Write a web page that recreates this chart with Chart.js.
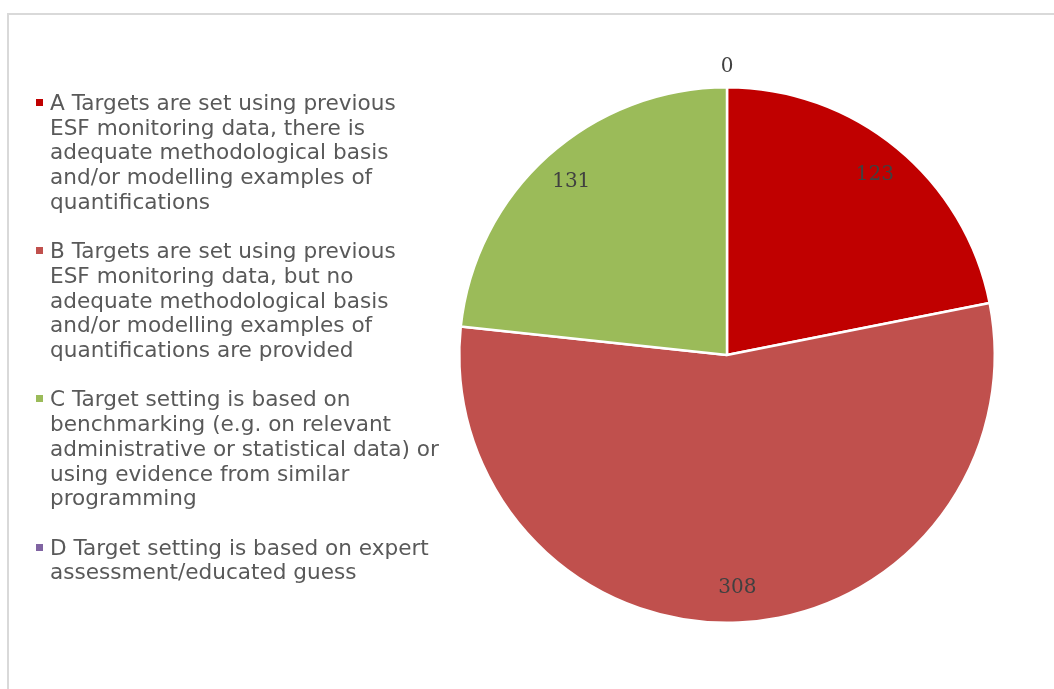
<!DOCTYPE html>
<html>
<head>
<meta charset="utf-8">
<script src="https://cdn.jsdelivr.net/npm/chart.js@4/dist/chart.umd.min.js"></script>
<style>
  html, body { margin: 0; padding: 0; background: #ffffff; overflow: hidden; }
  #wrap { position: relative; width: 1054px; height: 689px; }
  #frame { position: absolute; left: 7px; top: 13px; width: 1100px; height: 720px;
           border-top: 2px solid #d9d9d9; border-left: 2px solid #d9d9d9; box-sizing: border-box; }
  #c { position: absolute; left: 0; top: 0; }
  #legend { position: absolute; left: 36px; top: 91px; width: 420px;
            font-family: "DejaVu Sans", Verdana, sans-serif; font-size: 21.6px; color: #595959;
            line-height: 24.7px; }
  .item { position: relative; padding-left: 14px; margin-bottom: 24.7px; }
  .box { position: absolute; left: 0; top: 8px; width: 7px; height: 7px; }
  .line { white-space: nowrap; }
</style>
</head>
<body>
<div id="wrap">
  <div id="frame"></div>
  <canvas id="c" width="1054" height="689"></canvas>
  <div id="legend"></div>
</div>
<script>
// ---- data ----
const categories = [
  "A Targets are set using previous ESF monitoring data, there is adequate methodological basis and/or modelling examples of quantifications",
  "B Targets are set using previous ESF monitoring data, but no adequate methodological basis and/or modelling examples of quantifications are provided",
  "C Target setting is based on benchmarking (e.g. on relevant administrative or statistical data) or using evidence from similar programming",
  "D Target setting is based on expert assessment/educated guess"
];
const legendLines = [
  ["A Targets are set using previous", "ESF monitoring data, there is", "adequate methodological basis", "and/or modelling examples of", "quantifications"],
  ["B Targets are set using previous", "ESF monitoring data, but no", "adequate methodological basis", "and/or modelling examples of", "quantifications are provided"],
  ["C Target setting is based on", "benchmarking (e.g. on relevant", "administrative or statistical data) or", "using evidence from similar", "programming"],
  ["D Target setting is based on expert", "assessment/educated guess"]
];
const values = [123, 308, 131, 0];
const colors = ["#C00000", "#C0504D", "#9BBB59", "#8064A2"];

// ---- data label plugin ----
const pieLabels = {
  id: 'pieLabels',
  afterDatasetsDraw(chart) {
    const ctx = chart.ctx;
    const meta = chart.getDatasetMeta(0);
    const data = chart.data.datasets[0].data;
    ctx.save();
    ctx.font = '20px "DejaVu Serif", "Liberation Serif", serif';
    ctx.fillStyle = '#404040';
    ctx.textAlign = 'center';
    ctx.textBaseline = 'middle';
    meta.data.forEach((arc, i) => {
      const p = arc.getProps(['x', 'y', 'startAngle', 'endAngle', 'outerRadius'], true);
      const mid = (p.startAngle + p.endAngle) / 2;
      const d = data[i] === 0 ? p.outerRadius + 20 : p.outerRadius * 0.87;
      ctx.fillText(String(data[i]), p.x + Math.cos(mid) * d, p.y + Math.sin(mid) * d);
    });
    ctx.restore();
  }
};

new Chart(document.getElementById('c'), {
  type: 'pie',
  data: {
    labels: categories,
    datasets: [{
      data: values,
      backgroundColor: colors,
      borderColor: '#ffffff',
      borderWidth: 2.5
    }]
  },
  options: {
    responsive: false,
    animation: false,
    layout: { padding: { left: 458, right: 58, top: 86, bottom: 65 } },
    plugins: { legend: { display: false }, tooltip: { enabled: false } }
  },
  plugins: [pieLabels]
});

// ---- HTML legend ----
const lg = document.getElementById('legend');
legendLines.forEach((lines, i) => {
  const item = document.createElement('div');
  item.className = 'item';
  const box = document.createElement('div');
  box.className = 'box';
  box.style.background = colors[i];
  item.appendChild(box);
  lines.forEach(t => {
    const l = document.createElement('div');
    l.className = 'line';
    l.textContent = t;
    item.appendChild(l);
  });
  lg.appendChild(item);
});
</script>
</body>
</html>
